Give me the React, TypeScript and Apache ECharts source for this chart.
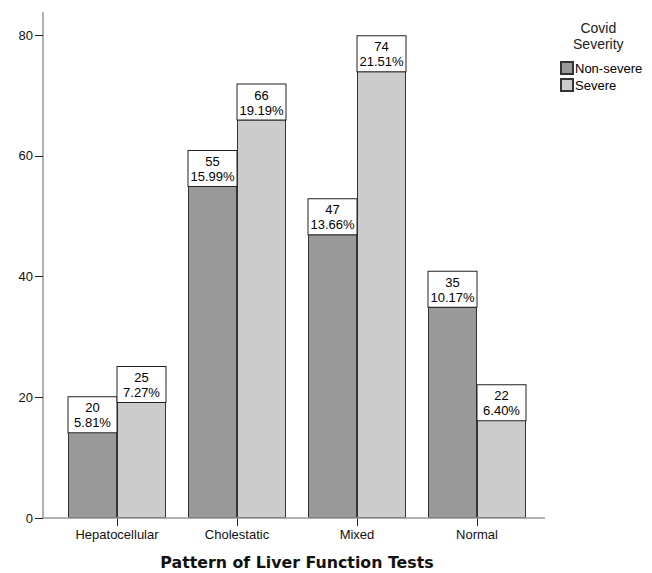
import React, { useEffect, useRef } from "react";
import * as echarts from "echarts";

const categories = ["Hepatocellular", "Cholestatic", "Mixed", "Normal"];
const nonSevere = [20, 55, 47, 35];
const nonSeverePct = ["5.81%", "15.99%", "13.66%", "10.17%"];
const severe = [25, 66, 74, 22];
const severePct = ["7.27%", "19.19%", "21.51%", "6.40%"];
const yTicks = [0, 20, 40, 60, 80];

const FONT = "Liberation Sans, Arial, sans-serif";

function makeData(values: number[], pcts: string[]) {
  return values.map((v, i) => ({
    value: v,
    pct: pcts[i],
    label: {
      position: v > 30 ? "top" : "insideTop",
      distance: 0,
    },
  }));
}

const labelStyle = {
  show: true,
  formatter: (p: any) => `${p.value}\n${p.data.pct}`,
  color: "#000",
  fontFamily: FONT,
  fontSize: 13,
  lineHeight: 15,
  backgroundColor: "#fff",
  borderColor: "#222",
  borderWidth: 1,
  width: 46,
  align: "center",
  padding: [3, 1, 2, 1],
};

export default function App() {
  const ref = useRef<HTMLDivElement>(null);
  useEffect(() => {
    if (!ref.current) return;
    const chart = echarts.init(ref.current, null, { renderer: "svg" });
    chart.setOption({
      animation: false,
      grid: {
        left: 57,
        right: 115,
        top: 35,
        bottom: 55,
        containLabel: false,
        outerBoundsMode: "none",
      },
      legend: {
        orient: "vertical",
        left: 555,
        top: 56,
        itemWidth: 12,
        itemHeight: 12,
        itemGap: 3,
        icon: "rect",
        textStyle: { fontFamily: FONT, fontSize: 13, color: "#000", padding: [0, 0, 0, -3] },
        data: ["Non-severe", "Severe"],
      },
      graphic: [
        {
          type: "text",
          left: 573,
          top: 20,
          style: {
            text: "Covid\nSeverity",
            fontFamily: FONT,
            fontSize: 14,
            lineHeight: 16,
            fill: "#222",
            align: "center",
            textAlign: "center",
          },
        },
        {
          type: "line",
          shape: { x1: 43, y1: 12, x2: 43, y2: 35 },
          style: { stroke: "#b0b0b0", lineWidth: 2 },
        },
        {
          type: "line",
          shape: { x1: 43, y1: 518, x2: 545, y2: 518 },
          style: { stroke: "#999", lineWidth: 1.5 },
          z: 10,
        },
      ],
      xAxis: {
        type: "category",
        data: categories,
        axisLine: { show: false },
        axisTick: { show: true, alignWithLabel: true, length: 8, lineStyle: { color: "#222" } },
        axisLabel: { fontFamily: FONT, fontSize: 13, color: "#111", margin: 10 },
        name: "Pattern of Liver Function Tests",
        nameLocation: "middle",
        nameGap: 36,
        nameTextStyle: { fontFamily: "DejaVu Sans, Verdana, sans-serif", fontSize: 15.8, fontWeight: "bold", color: "#111" },
      },
      yAxis: {
        type: "value",
        min: 0,
        max: yTicks[yTicks.length - 1],
        interval: 20,
        offset: 14,
        axisLine: { show: true, lineStyle: { color: "#b0b0b0", width: 2 } },
        axisTick: { show: true, length: 8, lineStyle: { color: "#222" } },
        axisLabel: { fontFamily: FONT, fontSize: 13, color: "#111", margin: 10 },
        splitLine: { show: false },
      },
      series: [
        {
          name: "Non-severe",
          type: "bar",
          data: makeData(nonSevere, nonSeverePct),
          barWidth: 49,
          barGap: "0%",
          itemStyle: { color: "#999999", borderColor: "#333", borderWidth: 1 },
          label: labelStyle,
        },
        {
          name: "Severe",
          type: "bar",
          data: makeData(severe, severePct),
          barWidth: 49,
          barGap: "0%",
          itemStyle: { color: "#cccccc", borderColor: "#333", borderWidth: 1 },
          label: labelStyle,
        },
      ],
    });
    return () => chart.dispose();
  }, []);
  return <div ref={ref} style={{ width: 652, height: 573, position: "absolute", left: 0, top: 0 }} />;
}
